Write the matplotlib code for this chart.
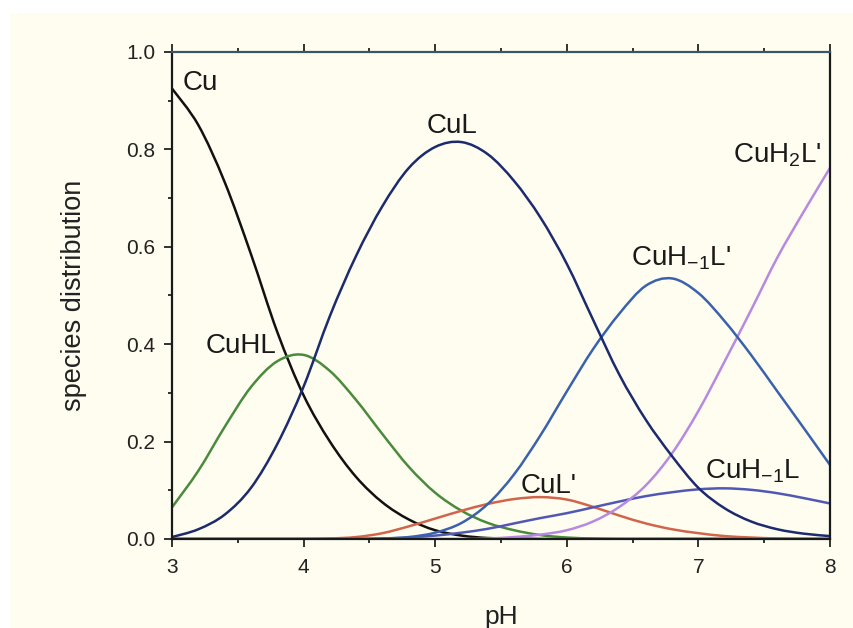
import matplotlib
matplotlib.use("Agg")
import matplotlib.pyplot as plt
from matplotlib.patches import Rectangle, PathPatch
from matplotlib.path import Path
from matplotlib.ticker import MultipleLocator, FormatStrFormatter

plt.rcParams['font.family'] = ['Liberation Sans', 'DejaVu Sans']
plt.rcParams['mathtext.fontset'] = 'custom'
plt.rcParams['mathtext.rm'] = 'Liberation Sans'
plt.rcParams['mathtext.it'] = 'Liberation Sans'

pH = [3.0, 3.2, 3.4, 3.6, 3.8, 4.0, 4.2, 4.4, 4.6, 4.8, 5.0, 5.2, 5.4,
      5.6, 5.8, 6.0, 6.2, 6.4, 6.6, 6.8, 7.0, 7.2, 7.4, 7.6, 7.8, 8.0]

cu = [0.925, 0.85, 0.733, 0.585, 0.425, 0.295, 0.20, 0.127, 0.075, 0.04, 0.018, 0.007, 0.002,
      0.001, 0, 0, 0, 0, 0, 0, 0, 0, 0, 0, 0, 0]
cuhl = [0.065, 0.14, 0.23, 0.312, 0.365, 0.378, 0.345, 0.285, 0.215, 0.148, 0.095, 0.058, 0.033,
        0.018, 0.008, 0.003, 0.001, 0, 0, 0, 0, 0, 0, 0, 0, 0]
cul = [0.004, 0.02, 0.05, 0.105, 0.195, 0.313, 0.458, 0.582, 0.684, 0.762, 0.805, 0.815, 0.79,
       0.735, 0.66, 0.565, 0.45, 0.337, 0.245, 0.17, 0.105, 0.063, 0.036, 0.02, 0.011, 0.006]
cul_p = [0, 0, 0, 0, 0, 0, 0.001, 0.004, 0.012, 0.026, 0.042, 0.058, 0.072,
         0.082, 0.086, 0.081, 0.066, 0.048, 0.032, 0.02, 0.012, 0.006, 0.003, 0.001, 0, 0]
cuhm1l_p = [0, 0, 0, 0, 0, 0, 0, 0, 0.001, 0.004, 0.013, 0.033, 0.072,
            0.133, 0.213, 0.303, 0.39, 0.463, 0.52, 0.535, 0.505, 0.447, 0.378, 0.303, 0.228, 0.152]
cuh2l_p = [0, 0, 0, 0, 0, 0, 0, 0, 0, 0, 0, 0, 0.001,
           0.004, 0.009, 0.018, 0.036, 0.066, 0.11, 0.176, 0.263, 0.365, 0.47, 0.578, 0.672, 0.762]
cuhm1l = [0, 0, 0, 0, 0, 0, 0, 0, 0.001, 0.003, 0.007, 0.013, 0.021,
          0.032, 0.043, 0.053, 0.065, 0.077, 0.088, 0.096, 0.102, 0.104, 0.101, 0.094, 0.084, 0.073]

series = [
    (cu, '#111111'),
    (cuhl, '#4a8a3c'),
    (cul_p, '#d0654c'),
    (cuhm1l, '#5058b4'),
    (cuh2l_p, '#b68ae2'),
    (cuhm1l_p, '#3a62ac'),
    (cul, '#1c2a6e'),
]

labels = [
    (3.08, 0.922, 'Cu', 'left'),
    (3.795, 0.382, 'CuHL', 'right'),
    (5.125, 0.834, 'CuL', 'center'),
    (5.865, 0.094, "CuL'", 'center'),
    (6.87, 0.561, r"CuH$_{\mathregular{-1}}$L'", 'center'),
    (7.6, 0.774, r"CuH$_{\mathregular{2}}$L'", 'center'),
    (7.415, 0.125, r"CuH$_{\mathregular{-1}}$L", 'center'),
]


def smooth_path(xs, ys):
    """Catmull-Rom curve through the data points, as cubic Bezier segments."""
    n = len(xs)
    pts = list(zip(xs, ys))
    verts = [pts[0]]
    codes = [Path.MOVETO]
    for i in range(n - 1):
        p0 = pts[i - 1] if i > 0 else pts[i]
        p1 = pts[i]
        p2 = pts[i + 1]
        p3 = pts[i + 2] if i + 2 < n else pts[i + 1]
        c1 = (p1[0] + (p2[0] - p0[0]) / 6, p1[1] + (p2[1] - p0[1]) / 6)
        c2 = (p2[0] - (p3[0] - p1[0]) / 6, p2[1] - (p3[1] - p1[1]) / 6)
        verts += [c1, c2, p2]
        codes += [Path.CURVE4] * 3
    return Path(verts, codes)


fig = plt.figure(figsize=(8.54, 6.28), dpi=100, facecolor='white')
fig.patches.append(Rectangle((10 / 854, 0), 1, 1 - 13 / 628, transform=fig.transFigure,
                             facecolor='#fffdf0', edgecolor='none', zorder=-10))
ax = fig.add_axes([172 / 854, 1 - 539 / 628, (830 - 172) / 854, (539 - 52) / 628])
ax.set_facecolor('#fffdf0')

for ys, col in series:
    ax.add_patch(PathPatch(smooth_path(pH, ys), facecolor='none', edgecolor=col,
                           lw=1.8, capstyle='round', joinstyle='round'))

for x, y, t, ha in labels:
    ax.text(x, y, t, ha=ha, va='baseline', fontsize=20, color='#1a1a1a')

ax.set_xlim(3, 8)
ax.set_ylim(0, 1.0)
ax.xaxis.set_major_locator(MultipleLocator(1))
ax.xaxis.set_minor_locator(MultipleLocator(0.5))
ax.yaxis.set_major_locator(MultipleLocator(0.2))
ax.yaxis.set_minor_locator(MultipleLocator(0.1))
ax.yaxis.set_major_formatter(FormatStrFormatter('%.1f'))
ax.xaxis.set_ticks_position('both')
ax.yaxis.set_ticks_position('left')
ax.tick_params(which='both', direction='out', labelsize=15, colors='#222222', width=1.3)
ax.tick_params(axis='x', which='both', top=True, labeltop=False)
ax.tick_params(which='major', length=6)
ax.tick_params(axis='x', which='major', pad=8)
ax.tick_params(axis='y', which='major', pad=6)
ax.tick_params(which='minor', length=3)
for s in ['left', 'bottom', 'right', 'top']:
    ax.spines[s].set_linewidth(1.6)
    ax.spines[s].set_color('#1a1a1a')
ax.spines['top'].set_color('#3d5560')

ax.set_xlabel('pH', fontsize=19, color='#222222', labelpad=20)
ax.set_ylabel('species distribution', fontsize=19.5, color='#222222', labelpad=28)

fig.savefig('out.png', dpi=100, facecolor=fig.get_facecolor())
